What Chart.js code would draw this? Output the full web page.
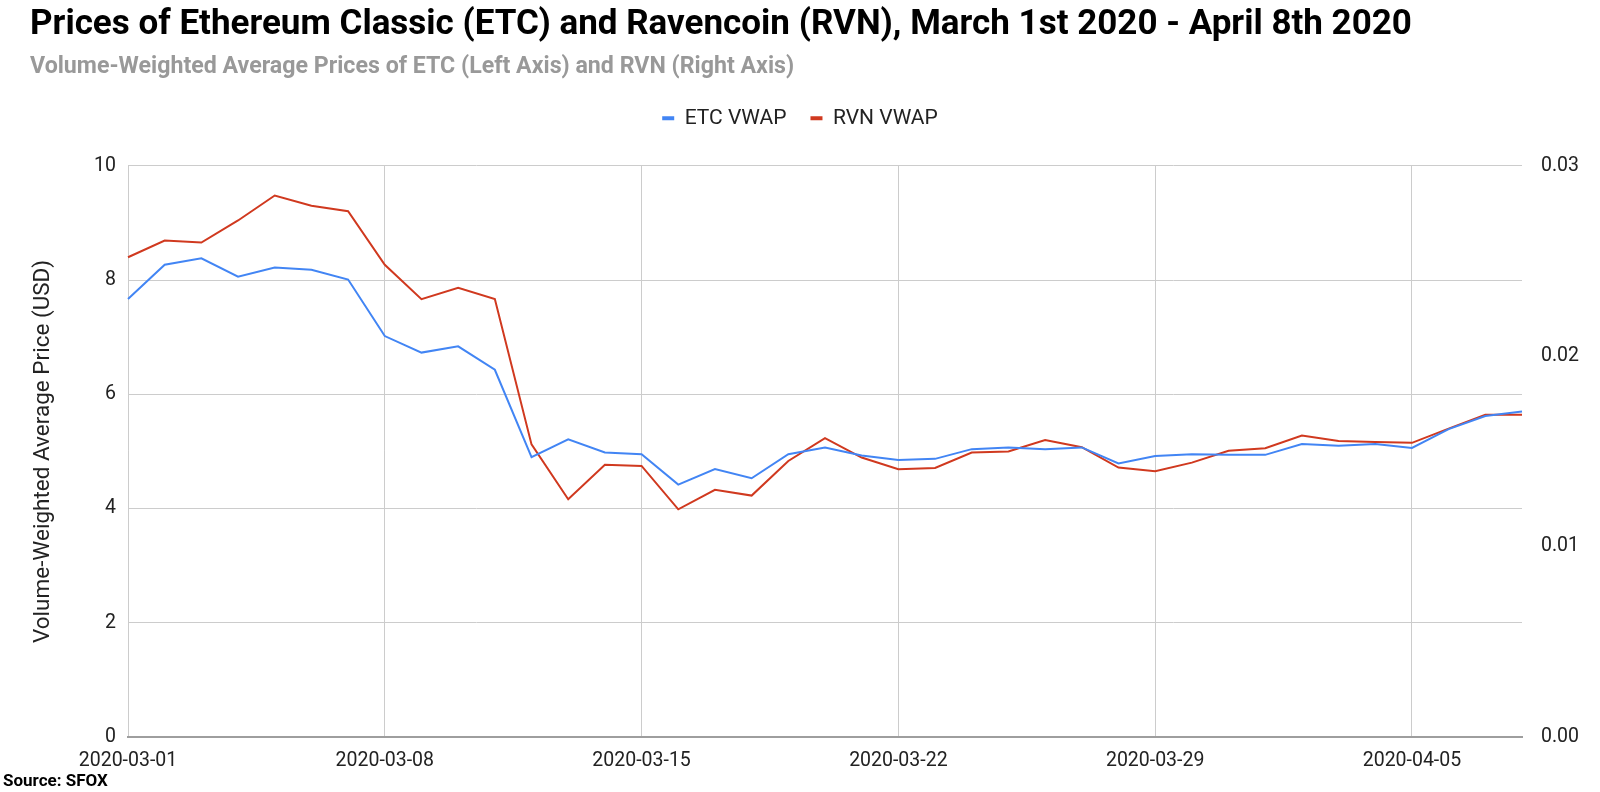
<!DOCTYPE html>
<html>
<head>
<meta charset="utf-8">
<title>ETC and RVN VWAP</title>
<script src="https://cdn.jsdelivr.net/npm/chart.js@4.4.1/dist/chart.umd.min.js"></script>
<style>
    html, body { margin: 0; padding: 0; background: #fff; }
    #wrap { width: 1600px; height: 792px; position: relative; }
</style>
</head>
<body>
<div id="wrap">
    <canvas id="vwapLineChart"></canvas>
</div>

<script>
// one point per day, 2020-03-01 .. 2020-04-08
var dates = [
    '2020-03-01', '2020-03-02', '2020-03-03', '2020-03-04', '2020-03-05', '2020-03-06', '2020-03-07',
    '2020-03-08', '2020-03-09', '2020-03-10', '2020-03-11', '2020-03-12', '2020-03-13', '2020-03-14',
    '2020-03-15', '2020-03-16', '2020-03-17', '2020-03-18', '2020-03-19', '2020-03-20', '2020-03-21',
    '2020-03-22', '2020-03-23', '2020-03-24', '2020-03-25', '2020-03-26', '2020-03-27', '2020-03-28',
    '2020-03-29', '2020-03-30', '2020-03-31', '2020-04-01', '2020-04-02', '2020-04-03', '2020-04-04',
    '2020-04-05', '2020-04-06', '2020-04-07', '2020-04-08'
];

// ETC VWAP (USD, left axis)
var etcVwap = [
    7.67, 8.27, 8.38, 8.06, 8.22, 8.18, 8.01,
    7.02, 6.73, 6.84, 6.43, 4.90, 5.21, 4.98,
    4.95, 4.42, 4.69, 4.53, 4.95, 5.07, 4.93,
    4.85, 4.87, 5.04, 5.07, 5.04, 5.07, 4.79,
    4.92, 4.95, 4.94, 4.94, 5.13, 5.10, 5.13,
    5.06, 5.39, 5.62, 5.70
];

// RVN VWAP (USD, right axis)
var rvnVwap = [
    0.02520, 0.02608, 0.02597, 0.02713, 0.02844, 0.02790, 0.02762,
    0.02480, 0.02300, 0.02360, 0.02300, 0.01537, 0.01249, 0.01430,
    0.01424, 0.01196, 0.01298, 0.01268, 0.01450, 0.01570, 0.01468,
    0.01407, 0.01413, 0.01494, 0.01500, 0.01560, 0.01522, 0.01415,
    0.01396, 0.01441, 0.01503, 0.01517, 0.01583, 0.01555, 0.01550,
    0.01545, 0.01620, 0.01693, 0.01693
];

var leftTicks = [0, 2, 4, 6, 8, 10];
var rightTicks = [0, 0.01, 0.02, 0.03];

var tickFont = { family: 'Roboto', size: 19.5 };

// "Source: SFOX" under the chart, and legend centred on the whole page
var pageBits = {
    id: 'pageBits',
    beforeDraw: function(chart) {
        chart.legend.left = 0;
        chart.legend.right = chart.width;
    },
    afterDraw: function(chart) {
        var c = chart.ctx;
        c.save();
        c.font = 'bold 17px Roboto';
        c.fillStyle = '#000';
        c.textBaseline = 'middle';
        c.textAlign = 'left';
        c.fillText('Source: SFOX', 3, 782);
        c.restore();
    }
};

var ctx = document.getElementById('vwapLineChart').getContext('2d');
var myVwapChart = new Chart(ctx, {
    type: 'line',
    data: {
        labels: dates,
        datasets: [{
            label: 'ETC VWAP',
            data: etcVwap,
            xAxisID: 'x',
            yAxisID: 'y',
            borderColor: '#4285F4',
            backgroundColor: '#4285F4',
            borderWidth: 2,
            pointRadius: 0,
            tension: 0
        }, {
            label: 'RVN VWAP',
            data: rvnVwap,
            xAxisID: 'x',
            yAxisID: 'y2',
            borderColor: '#D0391F',
            backgroundColor: '#D0391F',
            borderWidth: 2,
            pointRadius: 0,
            tension: 0
        }]
    },
    options: {
        responsive: true,
        maintainAspectRatio: false,
        animation: false,
        layout: {
            padding: { left: 30, right: 0, top: 0, bottom: 0 }
        },
        plugins: {
            title: {
                display: true,
                text: 'Prices of Ethereum Classic (ETC) and Ravencoin (RVN), March 1st 2020 - April 8th 2020',
                align: 'start',
                color: '#000',
                font: { family: 'Roboto', size: 35, weight: 'bold' },
                padding: { top: 4, bottom: 0 }
            },
            subtitle: {
                display: true,
                text: 'Volume-Weighted Average Prices of ETC (Left Axis) and RVN (Right Axis)',
                align: 'start',
                color: '#999999',
                font: { family: 'Roboto', size: 23.2, weight: 'bold' },
                padding: { top: 7, bottom: 3 }
            },
            legend: {
                position: 'top',
                align: 'center',
                labels: {
                    color: '#222',
                    font: { family: 'Roboto', size: 21 },
                    boxWidth: 12,
                    boxHeight: 4,
                    padding: 24,
                    generateLabels: function(chart) {
                        return Chart.defaults.plugins.legend.labels.generateLabels(chart).map(function(item) {
                            item.lineWidth = 0;
                            return item;
                        });
                    }
                }
            },
            tooltip: { enabled: false }
        },
        scales: {
            x: {
                type: 'category',
                offset: false,
                grid: {
                    drawTicks: false,
                    color: function(c) {
                        return c.index % 7 === 0 ? '#cccccc' : 'rgba(0,0,0,0)';
                    }
                },
                border: { display: true, color: '#9e9e9e', width: 2 },
                ticks: {
                    autoSkip: false,
                    maxRotation: 0,
                    color: '#222',
                    font: tickFont,
                    padding: 12,
                    callback: function(value, index) {
                        return index % 7 === 0 ? dates[index] : '';
                    }
                },
                afterFit: function(scale) { scale.height = 55; }
            },
            // empty box that keeps the gap between legend and plot
            spacer: {
                type: 'linear',
                axis: 'x',
                position: 'top',
                grid: { display: false },
                border: { display: false },
                ticks: { display: false },
                afterFit: function(scale) { scale.height = 27; }
            },
            y: {
                type: 'linear',
                position: 'left',
                min: leftTicks[0],
                max: leftTicks[leftTicks.length - 1],
                afterBuildTicks: function(scale) {
                    scale.ticks = leftTicks.map(function(v) { return { value: v }; });
                },
                grid: { color: '#cccccc', drawTicks: false },
                border: { display: false },
                ticks: { color: '#222', font: tickFont, padding: 12 },
                title: {
                    display: true,
                    text: 'Volume-Weighted Average Price (USD)',
                    color: '#222',
                    font: { family: 'Roboto', size: 22.5 },
                    padding: { top: 0, bottom: 0 }
                },
                afterFit: function(scale) { scale.width = 98; }
            },
            y2: {
                type: 'linear',
                position: 'right',
                min: rightTicks[0],
                max: rightTicks[rightTicks.length - 1],
                afterBuildTicks: function(scale) {
                    scale.ticks = rightTicks.map(function(v) { return { value: v }; });
                },
                grid: { display: false },
                border: { display: false },
                ticks: {
                    color: '#222',
                    font: tickFont,
                    padding: 11,
                    callback: function(value) { return value.toFixed(2); }
                },
                afterFit: function(scale) { scale.width = 78; }
            }
        }
    },
    plugins: [pageBits]
});
</script>
</body>
</html>
